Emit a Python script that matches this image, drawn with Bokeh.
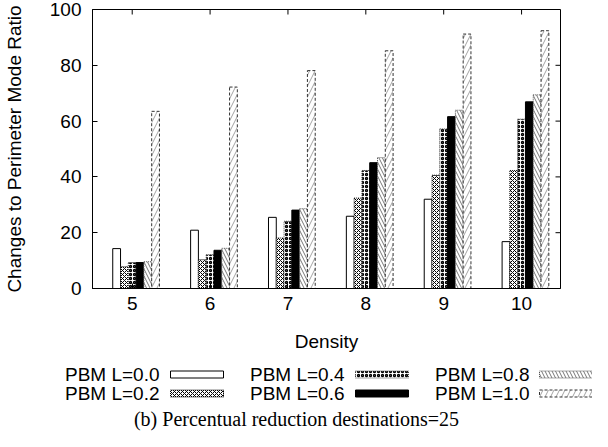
from bokeh.plotting import figure
from bokeh.models import FixedTicker, Range1d, ColumnDataSource
from bokeh.core.properties import value
from bokeh.transform import dodge
from bokeh.embed import file_html
from bokeh.resources import INLINE

# ---- data ----
density = [5, 6, 7, 8, 9, 10]
series_labels = ["PBM L=0.0", "PBM L=0.2", "PBM L=0.4", "PBM L=0.6", "PBM L=0.8", "PBM L=1.0"]
l00 = [14.3, 20.9, 25.5, 25.9, 32.0, 16.8]
l02 = [7.8, 10.3, 18.1, 32.4, 40.6, 42.3]
l04 = [9.3, 12.1, 24.1, 42.3, 57.2, 60.7]
l06 = [9.3, 13.7, 28.1, 45.1, 61.6, 66.9]
l08 = [9.6, 14.4, 28.6, 46.9, 63.9, 69.4]
l10 = [63.5, 72.2, 78.1, 85.2, 91.2, 92.4]
y_ticks = [0, 20, 40, 60, 80, 100]

keys = ["l00", "l02", "l04", "l06", "l08", "l10"]
src = ColumnDataSource(dict(density=density, l00=l00, l02=l02, l04=l04, l06=l06, l08=l08, l10=l10))

X0, X1, Y0, Y1 = 4.49, 10.5, 0, 100
FS = "19px"
SANS = "Liberation Sans"

styles = [
    dict(fill_color="white", line_color="black"),
    dict(fill_color="white", line_color="black", line_dash="1 1", hatch_pattern="diagonal_cross", hatch_color="black", hatch_scale=4, hatch_weight=1),
    dict(fill_color="white", line_color="#444444", line_dash="1 1", hatch_pattern="ring", hatch_color="black", hatch_scale=4, hatch_weight=1.3),
    dict(fill_color="black", line_color="black"),
    dict(fill_color="white", line_color="#555555", line_dash="1 1", hatch_pattern="left_diagonal_line", hatch_color="#666666", hatch_scale=7, hatch_weight=0.9),
    dict(fill_color="white", line_color="#333333", line_dash="3 2", hatch_pattern="right_diagonal_line", hatch_color="#999999", hatch_scale=11, hatch_weight=0.9),
]
offsets = [-0.2, -0.1, 0.0, 0.1, 0.2, 0.3]
bar_w = 0.1

p = figure(width=592, height=357, x_range=Range1d(X0, X1), y_range=Range1d(Y0, Y1),
           output_backend="svg", toolbar_location=None,
           min_border_left=89, min_border_right=32, min_border_top=9, min_border_bottom=69)
p.xgrid.visible = False
p.ygrid.visible = False
p.outline_line_color = "black"
p.outline_line_width = 1

for k, off, st in zip(keys, offsets, styles):
    p.vbar(x=dodge("density", off, range=p.x_range), top=k, width=bar_w, bottom=0, source=src, line_width=1, **st)

for ax in [p.xaxis[0], p.yaxis[0]]:
    ax.major_tick_in = 5
    ax.major_tick_out = 0
    ax.minor_tick_line_color = None
    ax.axis_line_color = "black"
    ax.major_tick_line_color = "black"
    ax.major_label_text_font = SANS
    ax.major_label_text_font_size = FS
    ax.major_label_text_color = "black"
    ax.axis_label_text_font = SANS
    ax.axis_label_text_font_size = FS
    ax.axis_label_text_font_style = "normal"
    ax.axis_label_text_color = "black"

p.xaxis.ticker = FixedTicker(ticks=density)
p.yaxis.ticker = FixedTicker(ticks=y_ticks)
p.xaxis.axis_label = "Density"
p.yaxis.axis_label = "Changes to Perimeter Mode Ratio"
p.xaxis.major_label_standoff = 8
p.xaxis.axis_label_standoff = 18
p.yaxis.major_label_standoff = 11
p.yaxis.axis_label_standoff = 22

# mirrored inward ticks on top and right edges
p.ray(x=density, y=[Y1] * len(density), length=5, length_units="screen", angle=-90, angle_units="deg", line_color="black", line_width=1)
p.ray(x=[X1] * len(y_ticks), y=y_ticks, length=5, length_units="screen", angle=180, angle_units="deg", line_color="black", line_width=1)

# ---- legend + caption figure ----
LW, LH = 592, 74
q = figure(width=LW, height=LH, x_range=Range1d(0, LW), y_range=Range1d(LH, 0),
           output_backend="svg", toolbar_location=None,
           min_border=0, min_border_left=0, min_border_right=0, min_border_top=0, min_border_bottom=0)
q.axis.visible = False
q.xgrid.visible = False
q.ygrid.visible = False
q.outline_line_color = None

text_right = [159, 159, 344, 344, 529, 529]
row_y = [17, 36, 17, 36, 17, 36]
sw_left = [170, 170, 355, 355, 539, 539]
sw_w, sw_h = 53, 7
for lab, tx, ty, sx, st in zip(series_labels, text_right, row_y, sw_left, styles):
    q.text(x=[tx], y=[ty], text=[lab], text_align="right", text_baseline="middle",
           text_font=value(SANS), text_font_size=FS, text_color="black")
    q.quad(left=[sx], right=[sx + sw_w], top=[ty - sw_h / 2], bottom=[ty + sw_h / 2], line_width=1, **st)

q.text(x=[296], y=[61], text=["(b) Percentual reduction destinations=25"], text_align="center",
       text_baseline="middle", text_font=value("Liberation Serif"), text_font_size="20px", text_color="black")

open("out.html", "w").write(file_html([p, q], INLINE))
